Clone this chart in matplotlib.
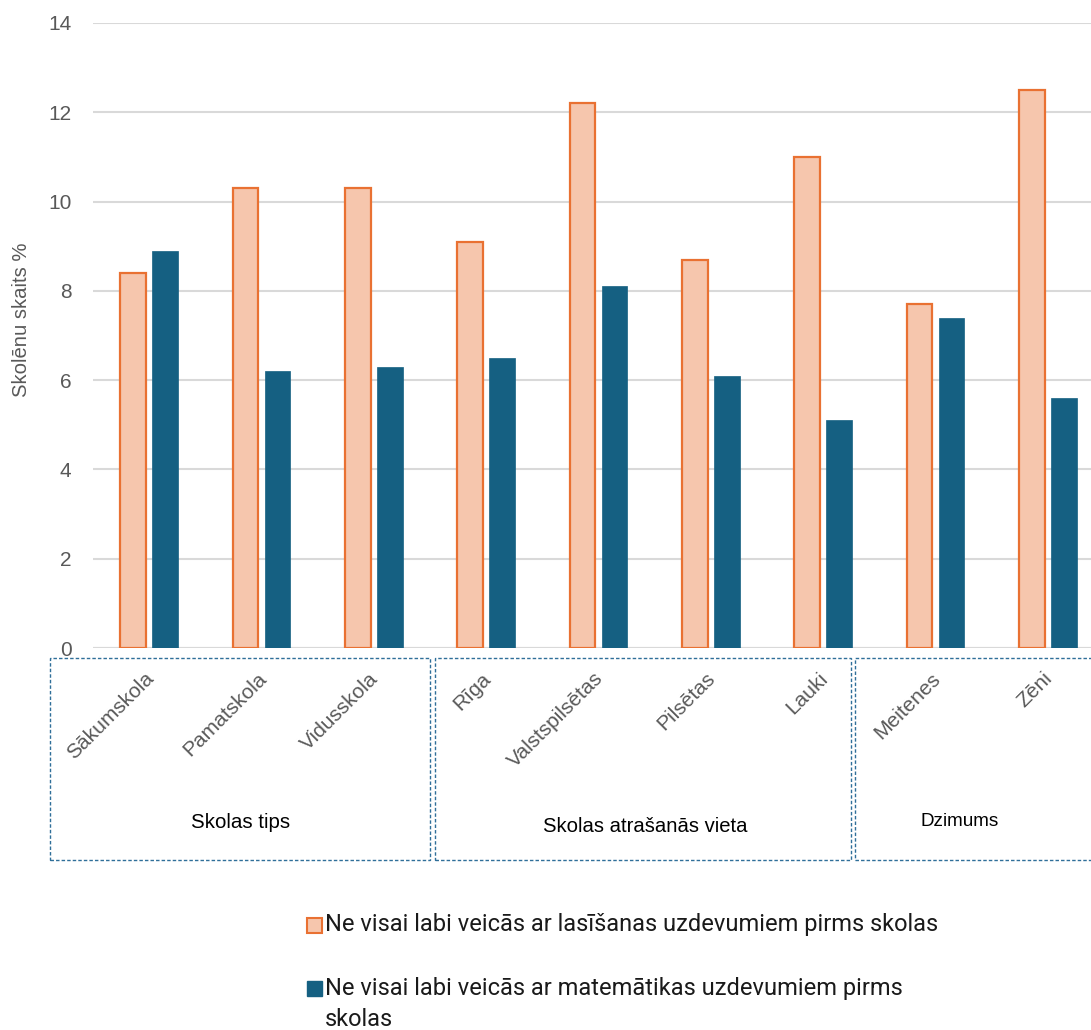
import matplotlib
matplotlib.use("Agg")
import matplotlib.pyplot as plt
from matplotlib.patches import Rectangle
from matplotlib.transforms import blended_transform_factory
import numpy as np

# Data
categories = ["Sākumskola", "Pamatskola", "Vidusskola", "Rīga", "Valstspilsētas",
              "Pilsētas", "Lauki", "Meitenes", "Zēni"]
reading = [8.4, 10.3, 10.3, 9.1, 12.2, 8.7, 11.0, 7.7, 12.5]
maths = [8.9, 6.2, 6.3, 6.5, 8.1, 6.1, 5.1, 7.4, 5.6]
groups = ["Skolas tips", "Skolas atrašanās vieta", "Dzimums"]
series_names = ["Ne visai labi veicās ar lasīšanas uzdevumiem pirms skolas",
                "Ne visai labi veicās ar matemātikas uzdevumiem pirms\nskolas"]
y_label = "Skolēnu skaits %"
y_ticks = [0, 2, 4, 6, 8, 10, 12, 14]

W, H = 1091, 1030
fig = plt.figure(figsize=(W / 100, H / 100), dpi=100)

def fx(px):
    return px / W

def fy(py):
    return 1 - py / H

ax_left, ax_right, ax_top, ax_bottom = 93, 1104, 23, 648
ax = fig.add_axes([fx(ax_left), fy(ax_bottom), fx(ax_right - ax_left), (ax_bottom - ax_top) / H])

orange_fill = "#F6C6AD"
orange_edge = "#E97132"
blue_fill = "#156082"
grid_col = "#D9D9D9"
tick_col = "#595959"

x = np.arange(len(categories))
bw = 0.23
off = 0.1425
ax.bar(x - off, reading, width=bw, color=orange_fill, edgecolor=orange_edge, linewidth=1.6, zorder=3)
ax.bar(x + off, maths, width=bw, color=blue_fill, edgecolor=blue_fill, linewidth=0.5, zorder=3)

ax.set_xlim(-0.5, len(categories) - 0.5)
ax.set_ylim(0, 14)
ax.set_yticks(y_ticks)
ax.set_yticklabels([str(t) for t in y_ticks], fontsize=15, color=tick_col, family="Liberation Sans")
ax.tick_params(axis="y", length=0, pad=15.5)
ax.set_xticks([])
ax.grid(axis="y", color=grid_col, linewidth=1.5, zorder=0)
for s in ax.spines.values():
    s.set_visible(False)
ax.axhline(0, color=grid_col, linewidth=1.5, zorder=1)

# Category labels under the bars
tr = blended_transform_factory(ax.transData, fig.transFigure)
for i, c in enumerate(categories):
    ax.text(i + 0.075, fy(669), c, rotation=45, ha="right", va="top", transform=tr,
            fontsize=15, color=tick_col, family="Liberation Sans", clip_on=False)

# Group boxes with labels
box_col = "#2F6F99"
boxes = [(50, 430), (435, 851), (855, 1100)]
label_pos = [(241, 822, 14.8), (645, 826, 14.6), (960, 822, 13.6)]
for (x0, x1), g, (lx, ly, fs) in zip(boxes, groups, label_pos):
    fig.patches.append(Rectangle((fx(x0), fy(860)), fx(x1 - x0), (860 - 658) / H,
                                 transform=fig.transFigure, fill=False, edgecolor=box_col,
                                 linewidth=1.0, linestyle=(0, (2.5, 1.5))))
    fig.text(fx(lx), fy(ly), g, ha="center", va="center", fontsize=fs,
             color="#000000", family="Liberation Sans")

# Y axis title
fig.text(fx(22), fy(320), y_label, rotation=90, ha="center", va="center",
         fontsize=14.6, color=tick_col, family="Liberation Sans")

# Legend
leg_font = "Roboto"
fig.patches.append(Rectangle((fx(307), fy(933)), fx(15), 15 / H, transform=fig.transFigure,
                             facecolor=orange_fill, edgecolor=orange_edge, linewidth=1.5))
fig.text(fx(325), fy(925), series_names[0], ha="left", va="center", fontsize=17,
         color="#1a1a1a", family=leg_font)
fig.patches.append(Rectangle((fx(307), fy(996)), fx(15), 15 / H, transform=fig.transFigure,
                             facecolor=blue_fill, edgecolor=blue_fill, linewidth=1.0))
fig.text(fx(325), fy(977), series_names[1], ha="left", va="top", fontsize=17,
         color="#1a1a1a", family=leg_font, linespacing=1.45)

fig.savefig("out.png", dpi=100)
